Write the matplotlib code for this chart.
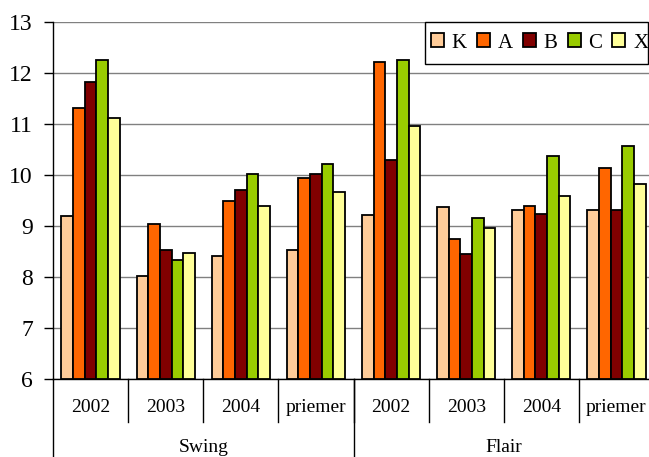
import numpy as np
import matplotlib
matplotlib.use("Agg")
import matplotlib.pyplot as plt
from matplotlib.patches import Rectangle

plt.rcParams["font.family"] = ["Liberation Serif", "DejaVu Serif"]

# categories: brand -> period
groups = ["Swing", "Flair"]
periods = ["2002", "2003", "2004", "priemer"]
series = ["K", "A", "B", "C", "X"]
colors = ["#FFCC99", "#FF6600", "#800000", "#99CC00", "#FFFF99"]

# one list per series, Swing 2002..priemer then Flair 2002..priemer
k_vals = [9.19, 8.01, 8.41, 8.52, 9.22, 9.38, 9.32, 9.32]
a_vals = [11.31, 9.03, 9.50, 9.94, 12.22, 8.75, 9.39, 10.13]
b_vals = [11.83, 8.52, 9.70, 10.01, 10.29, 8.45, 9.23, 9.32]
c_vals = [12.25, 8.33, 10.01, 10.21, 12.26, 9.15, 10.37, 10.57]
x_vals = [11.12, 8.48, 9.39, 9.66, 10.97, 8.96, 9.58, 9.82]
values = [k_vals, a_vals, b_vals, c_vals, x_vals]

W, H = 649, 457
fig = plt.figure(figsize=(W / 100, H / 100), dpi=100)
# plot area in pixels: left 53, right 654 (runs past the edge), top 22, bottom 379
ax = fig.add_axes([53 / W, (H - 379) / H, (654 - 53) / W, (379 - 22) / H])

n_cat = len(groups) * len(periods)
xpos = np.arange(n_cat)
bw = 0.155
for i, (name, vals, col) in enumerate(zip(series, values, colors)):
    ax.bar(xpos + (i - 2) * bw, np.array(vals) - 6, bottom=6, width=bw,
           color=col, edgecolor="black", linewidth=1.3, label=name, zorder=3)

ax.set_ylim(6, 13)
ax.set_xlim(-0.5, n_cat - 0.5)
ax.set_yticks(range(6, 14))
ax.yaxis.grid(True, color="#808080", linewidth=1.0, zorder=0)
ax.tick_params(axis="y", direction="out", length=6.5, width=1.0, labelsize=17, pad=8)
ax.tick_params(axis="x", bottom=False, labelbottom=False)
for side in ("top", "right"):
    ax.spines[side].set_visible(False)
ax.spines["left"].set_linewidth(1.0)
ax.spines["bottom"].set_linewidth(1.0)

# two-level category axis below the plot
trans = ax.get_xaxis_transform()
ax_h = 379 - 22
row1 = -28 / ax_h
sep1 = -(421.7 - 379) / ax_h
row2 = -69 / ax_h
sep2 = -(H - 379 + 2) / ax_h

for gi, g in enumerate(groups):
    for pi, p in enumerate(periods):
        c = gi * len(periods) + pi
        ax.text(c, row1, p, transform=trans, ha="center", va="center", fontsize=14)
        ax.plot([c + 0.5, c + 0.5], [0, sep1], transform=trans, color="black",
                linewidth=1.0, clip_on=False)
    center = gi * len(periods) + (len(periods) - 1) / 2
    ax.text(center, row2, g, transform=trans, ha="center", va="center", fontsize=14)
    left = gi * len(periods) - 0.5
    ax.plot([left, left], [0, sep2], transform=trans, color="black",
            linewidth=1.0, clip_on=False)

# legend box (pixels 425..648 x 22..64), drawn separately from the entries
lx0, lx1, ly0, ly1 = 425, 648, 22, 64
box = Rectangle((lx0 / W, 1 - ly1 / H), (lx1 - lx0) / W, (ly1 - ly0) / H,
                transform=fig.transFigure, facecolor="white", edgecolor="black",
                linewidth=1.0, zorder=4, clip_on=False)
ax.add_patch(box)
leg = ax.legend(loc="center left", bbox_to_anchor=((lx0 + 6) / W, 1 - (ly0 + ly1) / 2 / H),
                bbox_transform=fig.transFigure, ncol=5, fontsize=15,
                frameon=False, handlelength=0.63, handleheight=0.63,
                handletextpad=0.37, columnspacing=0.48, borderpad=0, borderaxespad=0)
leg.set_zorder(5)
for h in leg.legend_handles:
    h.set_linewidth(1.3)

fig.savefig("out.png", dpi=100, facecolor="white")
